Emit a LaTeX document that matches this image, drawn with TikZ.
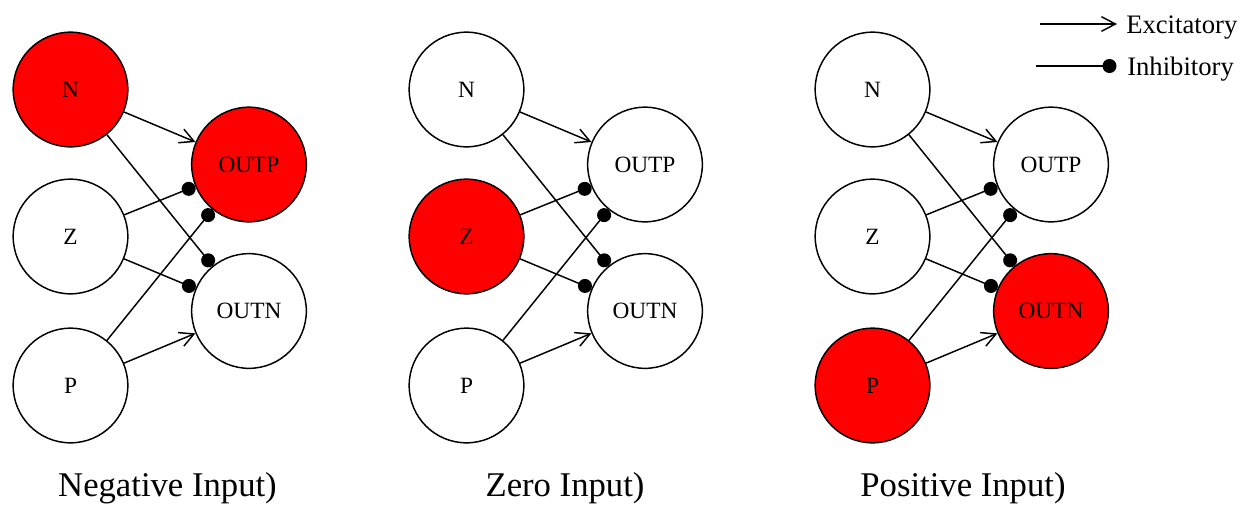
\documentclass[tikz,border=0pt]{standalone}
\usepackage{fontspec}
\setmainfont{Liberation Serif}
\newfontfamily\timesf{Liberation Serif}
\usetikzlibrary{arrows.meta}
\definecolor{nred}{HTML}{FF0000}
\begin{document}
\begin{tikzpicture}[x=0.75pt,y=-0.75pt,
  neuron/.style={circle,draw=black,line width=1.1pt,inner sep=0pt,minimum size=86pt,font=\timesf\fontsize{17.5}{20}\selectfont},
  excit/.style={line width=1.1pt,-{Straight Barb[length=10.5pt,width=11pt]}},
  inhib/.style={line width=1.1pt,-{Circle[length=10.5pt]}},
  paneltitle/.style={font=\timesf\fontsize{26}{30}\selectfont,anchor=base,inner sep=0pt},
  legendtext/.style={font=\timesf\fontsize{20}{24}\selectfont,anchor=base west,inner sep=0pt}]
\useasboundingbox (0,0) rectangle (1249,511);
\fill[white] (0,0) rectangle (1249,511);

\foreach \i/\dx/\fn/\fz/\fp/\fo/\fq/\tx/\ttl in {
  1/0/nred/white/white/nred/white/167.5/Negative Input),
  2/396/white/nred/white/white/white/565/Zero Input),
  3/802/white/white/nred/white/nred/963/Positive Input)}{
  \node[neuron,fill=\fn] (N\i) at (70.5+\dx,89.5) {N};
  \node[neuron,fill=\fz] (Z\i) at (70.5+\dx,236.5) {Z};
  \node[neuron,fill=\fp] (P\i) at (70.5+\dx,385.5) {P};
  \node[neuron,fill=\fo] (OUTP\i) at (249+\dx,164.5) {OUTP};
  \node[neuron,fill=\fq] (OUTN\i) at (249+\dx,311) {OUTN};
  \draw[excit] (N\i) -- (OUTP\i);
  \draw[inhib] (N\i) -- (OUTN\i);
  \draw[inhib] (Z\i) -- (OUTP\i);
  \draw[inhib] (Z\i) -- (OUTN\i);
  \draw[inhib] (P\i) -- (OUTP\i);
  \draw[excit] (P\i) -- (OUTN\i);
  \node[paneltitle] (T\i) at (\tx,496) {\ttl};
}

\coordinate (ea) at (1040,24);
\coordinate (eb) at (1117,24);
\coordinate (ia) at (1036,66);
\coordinate (ib) at (1116.5,66);
\draw[excit] (ea) -- (eb);
\draw[inhib] (ia) -- (ib);
\node[legendtext] (LE) at (1126,33) {Excitatory};
\node[legendtext] (LI) at (1127,75) {Inhibitory};
\end{tikzpicture}
\end{document}
